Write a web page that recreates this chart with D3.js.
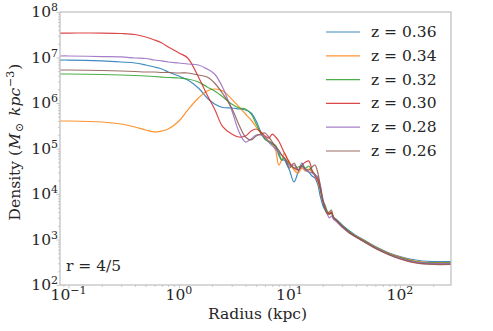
<!DOCTYPE html>
<html>
<head>
<meta charset="utf-8">
<script src="https://cdn.jsdelivr.net/npm/d3@7"></script>
<style>
  body { margin: 0; background: #fff; }
  svg { display: block; font-family: "DejaVu Serif", serif; }
</style>
</head>
<body>
<script>
// radius grid (kpc) shared by every snapshot
var radius = [0.084, 0.1, 0.2, 0.3, 0.4, 0.5, 0.6, 0.7, 0.8, 1.0, 1.2, 1.5, 1.8, 2.1, 2.5, 3.0, 3.5, 4.0, 4.5,
  5.0, 5.5, 6.0, 6.5, 7.0, 7.5, 8.0, 8.5, 9.0, 9.5, 10, 11, 12, 13, 14, 15, 16, 17, 18, 19, 20, 21, 22, 23, 24, 25,
  27, 30, 35, 40, 50, 60, 80, 100, 130, 160, 200, 290];

// density profiles (M_sun kpc^-3), one per redshift
var rhoZ036 = [8.8e6, 8.8e6, 8.4e6, 7.96e6, 7.57e6, 6.84e6, 6.18e6, 5.58e6, 4.8e6, 3.92e6, 3.2e6, 2.14e6, 1.29e6, 9.5e5, 7.96e5, 7.76e5, 7.38e5, 7.0e5, 6.03e5,
  4.02e5, 2.31e5, 1.62e5, 1.46e5, 1.32e5, 1.14e5, 7.19e4, 5.58e4, 5.58e4, 4.34e4, 3.37e4, 1.84e4, 3.05e4, 4.8e4, 3.37e4, 3.05e4, 2.49e4, 2.25e4, 1.66e4, 9.04e3, 5.73e3, 4.45e3, 3.82e3, 3.63e3, 3.82e3, 3.12e3,
  2.68e3, 2.08e3, 1.54e3, 1.22e3, 904, 702, 505, 423, 363, 337, 328, 328];
var rhoZ034 = [4.02e5, 4.02e5, 3.82e5, 3.45e5, 2.97e5, 2.55e5, 2.31e5, 2.43e5, 2.68e5, 4.02e5, 7.0e5, 1.29e6, 1.84e6, 2.03e6, 1.84e6, 1.22e6, 8.2e5, 5.73e5, 4.23e5,
  2.97e5, 2.19e5, 1.70e5, 1.46e5, 1.26e5, 9.27e4, 4.34e4, 5.58e4, 7.96e4, 6.18e4, 5.05e4, 3.37e4, 2.9e4, 3.72e4, 3.2e4, 3.54e4, 3.05e4, 2.62e4, 1.93e4, 1.22e4, 7.0e3, 5.18e3, 4.02e3, 3.63e3, 4.02e3, 3.12e3,
  2.55e3, 1.98e3, 1.46e3, 1.19e3, 881, 684, 492, 412, 345, 320, 312, 312];
var rhoZ032 = [4.34e6, 4.34e6, 4.23e6, 4.12e6, 4.02e6, 3.92e6, 3.82e6, 3.72e6, 3.63e6, 3.54e6, 3.37e6, 2.9e6, 2.25e6, 1.84e6, 1.36e6, 9.5e5, 7.76e5, 7.38e5, 5.73e5,
  3.45e5, 2.19e5, 1.62e5, 1.39e5, 1.26e5, 1.14e5, 8.37e4, 5.58e4, 6.18e4, 5.31e4, 4.56e4, 3.72e4, 3.92e4, 4.12e4, 3.72e4, 4.12e4, 3.2e4, 2.75e4, 2.25e4, 1.29e4, 7.38e3, 5.73e3, 4.23e3, 3.63e3, 3.82e3, 2.97e3,
  2.55e3, 1.98e3, 1.46e3, 1.16e3, 859, 667, 480, 402, 337, 312, 305, 305];
var rhoZ030 = [3.45e7, 3.45e7, 3.45e7, 3.37e7, 3.2e7, 2.82e7, 2.43e7, 2.08e7, 1.70e7, 1.26e7, 9.75e6, 3.72e6, 1.5e6, 7.38e5, 2.97e5, 2.08e5, 1.79e5, 1.88e5, 2.43e5,
  2.68e5, 2.31e5, 1.88e5, 1.70e5, 2.08e5, 1.79e5, 1.46e5, 1.08e5, 7.96e4, 6.18e4, 4.8e4, 3.72e4, 3.37e4, 4.34e4, 5.05e4, 5.31e4, 3.37e4, 2.49e4, 2.03e4, 1.36e4, 7.38e3, 4.92e3, 3.82e3, 3.63e3, 4.02e3, 2.97e3,
  2.43e3, 1.88e3, 1.39e3, 1.14e3, 837, 650, 468, 382, 320, 297, 290, 290];
var rhoZ028 = [1.08e7, 1.08e7, 1.05e7, 1.03e7, 9.75e6, 9.5e6, 8.8e6, 8.4e6, 7.96e6, 7.57e6, 7.19e6, 6.84e6, 5.58e6, 4.34e6, 2.14e6, 7.0e5, 2.31e5, 1.39e5, 1.62e5,
  1.98e5, 1.98e5, 1.79e5, 1.39e5, 1.14e5, 9.75e4, 8.37e4, 7.19e4, 6.18e4, 5.05e4, 4.12e4, 4.34e4, 3.37e4, 3.92e4, 3.37e4, 3.05e4, 2.9e4, 2.62e4, 2.37e4, 1.58e4, 8.17e3, 4.92e3, 3.63e3, 2.97e3, 3.28e3, 2.82e3,
  2.43e3, 1.88e3, 1.39e3, 1.14e3, 837, 650, 468, 392, 328, 305, 297, 297];
var rhoZ026 = [5.31e6, 5.31e6, 5.18e6, 5.05e6, 4.92e6, 4.8e6, 4.8e6, 4.68e6, 4.68e6, 4.56e6, 4.56e6, 4.12e6, 3.72e6, 2.75e6, 1.58e6, 7.76e5, 3.28e5, 1.79e5, 1.54e5,
  1.88e5, 2.08e5, 2.19e5, 1.79e5, 1.39e5, 1.08e5, 9.27e4, 7.19e4, 6.18e4, 4.8e4, 3.72e4, 4.8e4, 3.37e4, 4.12e4, 3.54e4, 3.37e4, 3.92e4, 4.34e4, 3.05e4, 1.5e4, 7.38e3, 4.68e3, 3.63e3, 4.02e3, 4.45e3, 3.12e3,
  2.55e3, 1.98e3, 1.39e3, 1.14e3, 817, 634, 456, 372, 312, 290, 282, 282];

var labels = ["z = 0.36", "z = 0.34", "z = 0.32", "z = 0.30", "z = 0.28", "z = 0.26"];
var colors = ["#1f77b4", "#ff7f0e", "#2ca02c", "#d62728", "#9467bd", "#8c564b"];
var profiles = [rhoZ036, rhoZ034, rhoZ032, rhoZ030, rhoZ028, rhoZ026];

var xMajor = [0.1, 1, 10, 100], xMajorExp = ["\u22121", "0", "1", "2"];
var yMajor = [1e2, 1e3, 1e4, 1e5, 1e6, 1e7, 1e8], yMajorExp = ["2", "3", "4", "5", "6", "7", "8"];

(function(){
    var width = 493, height = 331;
    var margin = {top: 12, right: 42, bottom: 46, left: 60};
    var w = width - margin.left - margin.right,
        h = height - margin.top - margin.bottom;
    var fs = 15.5, fsSmall = 11;

    var svg = d3.select("body").append("svg")
        .attr("width", width)
        .attr("height", height);

    var x = d3.scaleLog().domain([0.0838, 290]).range([0, w]);
    var y = d3.scaleLog().domain([1e2, 1e8]).range([h, 0]);

    var g = svg.append("g").attr("transform", "translate(" + margin.left + "," + margin.top + ")");

    //minor ticks at 2..9 of each decade
    var xMinor = [], yMinor = [];
    [0.01, 0.1, 1, 10, 100].forEach(function(d){
        for (var k = 2; k < 10; k++){
            var v = d * k;
            if (v > 0.0838 && v < 290) xMinor.push(v);
        }
    });
    [100, 1e3, 1e4, 1e5, 1e6, 1e7].forEach(function(d){
        for (var k = 2; k < 10; k++) yMinor.push(d * k);
    });

    function styleAxis(sel){
        sel.select(".domain").remove();
        sel.selectAll("line").attr("stroke", "#bdbdbd").attr("stroke-width", 0.8);
    }

    g.append("g").attr("transform", "translate(0," + h + ")")
        .call(d3.axisBottom(x).tickValues(xMinor).tickSize(2).tickFormat(""))
        .call(styleAxis);
    g.append("g").attr("transform", "translate(0," + h + ")")
        .call(d3.axisBottom(x).tickValues(xMajor).tickSize(3.5).tickFormat(""))
        .call(styleAxis);
    g.append("g")
        .call(d3.axisLeft(y).tickValues(yMinor).tickSize(2).tickFormat(""))
        .call(styleAxis);
    g.append("g")
        .call(d3.axisLeft(y).tickValues(yMajor).tickSize(3.5).tickFormat(""))
        .call(styleAxis);

    //lines
    var line = d3.line()
        .x(function(d){ return x(d[0]); })
        .y(function(d){ return y(d[1]); })
        .curve(d3.curveCatmullRom.alpha(0.5));

    g.append("defs").append("clipPath").attr("id", "clip")
        .append("rect").attr("width", w).attr("height", h);

    var lines = g.append("g").attr("clip-path", "url(#clip)");
    profiles.forEach(function(p, i){
        lines.append("path")
            .datum(radius.map(function(r, j){ return [r, p[j]]; }))
            .attr("fill", "none")
            .attr("stroke", colors[i])
            .attr("stroke-width", 1.2)
            .attr("stroke-opacity", 0.85)
            .attr("d", line);
    });

    //frame
    g.append("rect")
        .attr("width", w).attr("height", h)
        .attr("fill", "none")
        .attr("stroke", "#bdbdbd")
        .attr("stroke-width", 1.2);

    //tick labels
    xMajor.forEach(function(v, i){
        var t = g.append("text")
            .attr("x", x(v))
            .attr("y", h + 15)
            .attr("text-anchor", "middle")
            .attr("font-size", fs)
            .attr("fill", "#262626");
        t.append("tspan").text("10");
        t.append("tspan").attr("dy", -6).attr("font-size", fsSmall).text(xMajorExp[i]);
    });
    yMajor.forEach(function(v, i){
        var t = g.append("text")
            .attr("x", -2)
            .attr("y", y(v) + 5)
            .attr("text-anchor", "end")
            .attr("font-size", fs)
            .attr("fill", "#262626");
        t.append("tspan").text("10");
        t.append("tspan").attr("dy", -6).attr("font-size", fsSmall).text(yMajorExp[i]);
    });

    //axis titles
    g.append("text")
        .attr("x", w / 2 + 2)
        .attr("y", h + 34)
        .attr("text-anchor", "middle")
        .attr("font-size", fs)
        .attr("fill", "#262626")
        .text("Radius (kpc)");

    var yt = svg.append("text")
        .attr("transform", "translate(20,142) rotate(-90)")
        .attr("text-anchor", "middle")
        .attr("font-size", fs)
        .attr("fill", "#262626");
    yt.append("tspan").text("Density (");
    yt.append("tspan").attr("font-style", "italic").attr("dx", 1).text("M");
    yt.append("tspan").attr("dy", 3).attr("dx", 1).attr("font-size", fsSmall).text("\u2299");
    yt.append("tspan").attr("dy", -3).text(" ");
    yt.append("tspan").attr("font-style", "italic").attr("dx", 2).text("kpc");
    yt.append("tspan").attr("dy", -6).attr("dx", 1).attr("font-size", fsSmall).text("\u22123");
    yt.append("tspan").attr("dy", 6).attr("dx", 1).text(")");

    //annotation
    g.append("text")
        .attr("x", 6)
        .attr("y", h - 14)
        .attr("font-size", fs)
        .attr("fill", "#262626")
        .text("r = 4/5");

    //legend
    var legend = g.append("g").attr("transform", "translate(" + (w - 128) + ",20)");
    labels.forEach(function(l, i){
        var row = legend.append("g").attr("transform", "translate(0," + (i * 23.8) + ")");
        row.append("line")
            .attr("x1", 3).attr("x2", 37)
            .attr("stroke", colors[i])
            .attr("stroke-width", 1.2)
            .attr("stroke-opacity", 0.85);
        row.append("text")
            .attr("x", 48)
            .attr("y", 5)
            .attr("font-size", fs)
            .attr("fill", "#262626")
            .text(l);
    });
})();
</script>
</body>
</html>
